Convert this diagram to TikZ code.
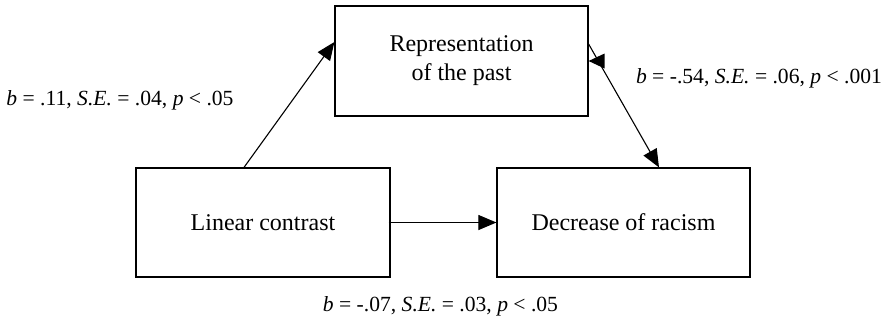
\documentclass[tikz,border=0pt]{standalone}
\usepackage{fontspec}
\setmainfont{Liberation Serif}
\usetikzlibrary{arrows.meta}
\begin{document}
\begin{tikzpicture}[x=1pt,y=-1pt,
  box/.style={draw, line width=1.2pt, minimum width=253pt, minimum height=110pt, inner sep=0pt, align=center, font=\fontsize{24}{29}\selectfont},
  lab/.style={anchor=base, inner sep=0pt, font=\fontsize{21.6}{26}\selectfont},
  arr/.style={line width=1.1pt, -{Triangle[length=18pt,width=15pt]}}]
\useasboundingbox (0,0) rectangle (884,330);
\node[box] (top) at (461.5,61) {Representation\\of the past};
\node[box, minimum width=254pt, minimum height=109pt] (left) at (263,222.5) {Linear contrast};
\node[box, minimum height=109pt] (right) at (623.5,222.5) {Decrease of racism};
\draw[arr] ([xshift=-19pt]left.north) -- ([yshift=19pt]top.west);
\draw[arr] ([xshift=-2pt]left.east) -- (right.west);
\draw[arr] ([yshift=17pt]top.east) -- ([xshift=35.5pt]right.north);
\fill ([yshift=0pt]top.east) -- ++(16,-7.5) -- ++(0,15) -- cycle;
\node[lab] (l1) at (120,105) {\textit{b} = .11, \textit{S.E.} = .04, \textit{p} < .05};
\node[lab] (l2) at (759,83) {\textit{b} = -.54, \textit{S.E.} = .06, \textit{p} < .001};
\node[lab] (l3) at (440.5,311) {\textit{b} = -.07, \textit{S.E.} = .03, \textit{p} < .05};
\end{tikzpicture}
\end{document}
